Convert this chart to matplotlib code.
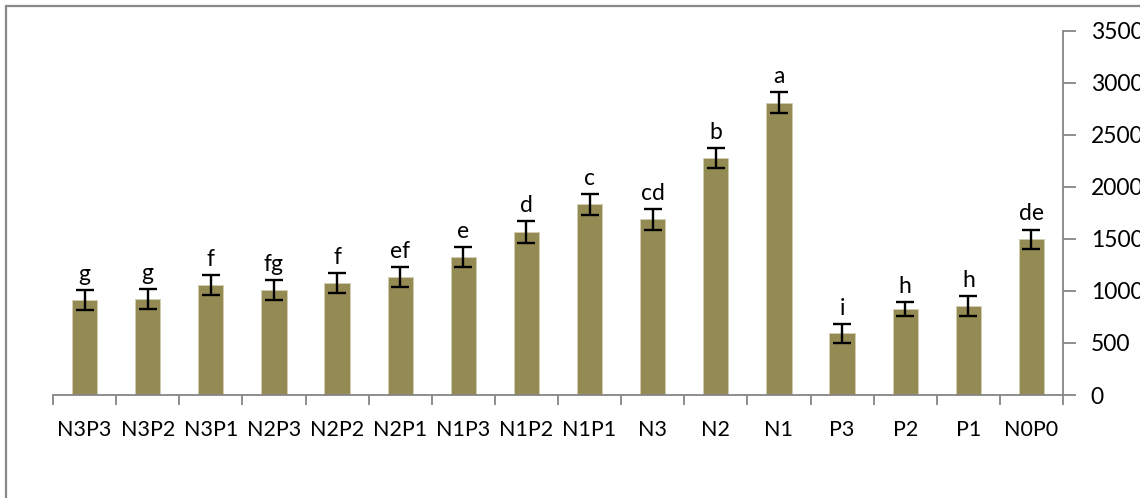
import numpy as np
import matplotlib.pyplot as plt
from matplotlib.patches import Rectangle

plt.rcParams['font.family'] = ['Lato', 'DejaVu Sans']

treatments = ['N3P3', 'N3P2', 'N3P1', 'N2P3', 'N2P2', 'N2P1', 'N1P3', 'N1P2',
              'N1P1', 'N3', 'N2', 'N1', 'P3', 'P2', 'P1', 'N0P0']
yield_mean = [908, 920, 1058, 1013, 1077, 1134, 1326, 1563,
              1832, 1688, 2279, 2807, 592, 828, 853, 1496]
yield_se = [96, 96, 97, 96, 93, 96, 100, 105,
            98, 100, 96, 100, 88, 70, 98, 94]
letters = ['g', 'g', 'f', 'fg', 'f', 'ef', 'e', 'd',
           'c', 'cd', 'b', 'a', 'i', 'h', 'h', 'de']

fig = plt.figure(figsize=(11.4, 4.98), dpi=100)
ax = fig.add_axes([53 / 1140, 103 / 498, 1010 / 1140, 364.3 / 498])

x = np.arange(len(treatments))
ax.bar(x, yield_mean, width=0.4, color='#948a54', edgecolor='#d2cdb0', linewidth=0.7, zorder=2)
ax.errorbar(x, yield_mean, yerr=yield_se, fmt='none', ecolor='black',
            elinewidth=1.7, capsize=6.5, capthick=1.7, zorder=3)

for xi, m, s, lab in zip(x, yield_mean, yield_se, letters):
    ax.annotate(lab, (xi, m + s), xytext=(0, 6.5), textcoords='offset points',
                ha='center', va='baseline', fontsize=16.5)

ax.set_xlim(-0.5, len(treatments) - 0.5)
ax.set_ylim(0, 3500)

# category labels at centres, boundary ticks as minor ticks
ax.set_xticks(x)
ax.set_xticklabels(treatments, fontsize=15.5)
ax.tick_params(axis='x', which='major', length=0, pad=18)
ax.set_xticks(np.arange(-0.5, len(treatments), 1), minor=True)
ax.tick_params(axis='x', which='minor', length=7, width=1.3, color='#868686', direction='out')

ax.yaxis.tick_right()
ax.set_yticks(np.arange(0, 3501, 500))
ax.tick_params(axis='y', length=9, width=1.3, color='#868686', direction='out', pad=11, labelsize=16.5)
for lbl in ax.get_yticklabels():
    lbl.set_horizontalalignment('left')

for side in ['top', 'left']:
    ax.spines[side].set_visible(False)
for side in ['bottom', 'right']:
    ax.spines[side].set_color('#868686')
    ax.spines[side].set_linewidth(1.3)

# outer frame of the chart area
fig.patches.append(Rectangle((6 / 1140, -0.1), 1.2, (492 / 498) + 0.1, transform=fig.transFigure,
                             fill=False, edgecolor='#898989', linewidth=1.6))

fig.savefig('out.png', dpi=100)
